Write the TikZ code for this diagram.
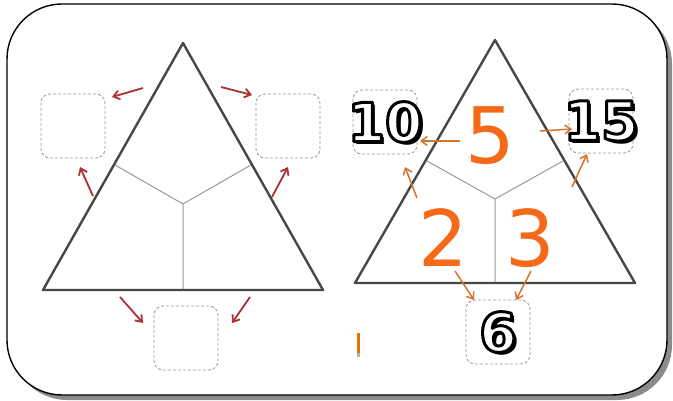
\documentclass[tikz,border=0pt]{standalone}
\usepackage{fontspec}
\setsansfont{DejaVu Sans}
\usepackage{tikz}
\usetikzlibrary{arrows.meta,positioning}
\definecolor{redarr}{RGB}{170,50,50}
\definecolor{orarr}{RGB}{215,115,45}
\definecolor{ornum}{RGB}{245,105,25}
\newcommand{\outl}[1]{\special{pdf:literal direct 2 Tr 0 G 3 w 1 j}#1\special{pdf:literal direct 0 Tr}}
\begin{document}
\begin{tikzpicture}[x=1pt,y=-1pt,
  box/.style={draw=gray!80,densely dashed,line width=0.8pt,rounded corners=9pt,minimum size=64pt,inner sep=0pt},
  tri/.style={draw=black!72,line width=2.4pt,line join=round},
  part/.style={draw=black!40,line width=1pt},
  rarr/.style={draw=redarr,line width=1.8pt,-{Straight Barb[length=6pt,width=9pt]}},
  oarr/.style={draw=orarr,line width=1.5pt,-{Straight Barb[length=6pt,width=9pt]}},
  big/.style={text=ornum,font=\sffamily\fontsize{78}{78}\selectfont},
  num/.style={font=\sffamily\bfseries\fontsize{54}{54}\selectfont,inner sep=0pt},
  shade/.style={num,text=black,xshift=3pt,yshift=-3pt}]
\useasboundingbox (0,0) rectangle (673,401);
% frame
\fill[black!45,rounded corners=55pt] (12,9) rectangle (672,400);
\draw[fill=white,line width=1.4pt,rounded corners=55pt] (7,4) rectangle (667,395);
% left triangle
\coordinate (la) at (183,43); \coordinate (lb) at (43,290); \coordinate (lc) at (323,290);
\coordinate (lm) at (183,204);
\draw[part] (lm) -- (115,165) (lm) -- (251,165) (lm) -- (183,290);
\draw[tri] (la) -- (lb) -- (lc) -- cycle;
\node[box] (l1) at (73,126) {}; \node[box] (l2) at (288,126) {}; \node[box] (l3) at (186,338) {};
\coordinate (r1) at (143,88); \coordinate (r1e) at (112,97);
\coordinate (r2) at (93,196); \coordinate (r2e) at (80,167);
\coordinate (r3) at (221,87); \coordinate (r3e) at (252,95);
\coordinate (r4) at (272,197); \coordinate (r4e) at (288,167);
\coordinate (r5) at (120,297); \coordinate (r5e) at (143,323);
\coordinate (r6) at (250,297); \coordinate (r6e) at (232,323);
\foreach \s/\e in {r1/r1e,r2/r2e,r3/r3e,r4/r4e,r5/r5e,r6/r6e} \draw[rarr] (\s) -- (\e);
% right triangle
\coordinate (ra) at (495,40); \coordinate (rb) at (355,283); \coordinate (rc) at (635,283);
\coordinate (rm) at (495,199);
\draw[part] (rm) -- (427,161) (rm) -- (563,161) (rm) -- (495,283);
\draw[tri] (ra) -- (rb) -- (rc) -- cycle;
\node[box] (ten) at (385,122) {}; \node[box] (fif) at (601,121) {}; \node[box] (six) at (498,332) {};
\node[shade] at (ten) {10}; \node[num,text=white] (tenn) at (ten) {\outl{10}};
\node[shade] at (fif) {15}; \node[num,text=white] (fifn) at (fif) {\outl{15}};
\node[shade] at (six) {6}; \node[num,text=white] (sixn) at (six) {\outl{6}};
\node[big] (five) at (490,136) {5};
\node[big] (two) at (443,238) {2};
\node[big] (three) at (530,238) {3};
\coordinate (o1) at (460,141); \coordinate (o1e) at (420,141);
\coordinate (o2) at (417,198); \coordinate (o2e) at (405,167);
\coordinate (o3) at (540,131); \coordinate (o3e) at (572,129);
\coordinate (o4) at (572,187); \coordinate (o4e) at (587,154);
\coordinate (o5) at (455,271); \coordinate (o5e) at (474,300);
\coordinate (o6) at (531,271); \coordinate (o6e) at (516,300);
\foreach \s/\e in {o1/o1e,o2/o2e,o3/o3e,o4/o4e,o5/o5e,o6/o6e} \draw[oarr] (\s) -- (\e);
% pencil
\fill[orange!90!black] (356.5,333) rectangle (359.5,353);
\fill[black!30] (356.5,353) rectangle (359.5,357);
\end{tikzpicture}
\end{document}
